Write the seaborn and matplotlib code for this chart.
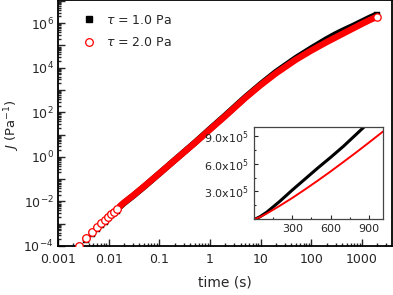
import numpy as np
import pandas as pd
import matplotlib
matplotlib.use("Agg")
import matplotlib.pyplot as plt
import matplotlib.ticker as mticker
from matplotlib.lines import Line2D
import seaborn as sns

# ---- data ----
t_red = [0.0026, 0.0036, 0.0046, 0.0058, 0.0071, 0.0084, 0.0097, 0.0111, 0.0128, 0.0145,
         0.0161, 0.02, 0.03, 0.05, 0.1, 0.2, 0.5, 1, 2, 5, 10, 20, 50, 100, 200, 300,
         400, 500, 600, 700, 800, 900, 1000, 1400, 1950]
J_red = [1.0e-4, 2.35e-4, 4.2e-4, 6.8e-4, 1.03e-3, 1.44e-3, 2.03e-3, 2.7e-3, 3.5e-3, 4.5e-3,
         5.7e-3, 8.8e-3, 1.8e-2, 4.7e-2, 0.18, 0.7, 4.2, 17, 68, 450, 1.68e3, 5.65e3, 2.34e4,
         5.96e4, 1.42e5, 2.29e5, 3.22e5, 4.18e5, 5.17e5, 6.2e5, 7.24e5, 8.31e5, 9.4e5,
         1.37e6, 1.92e6]

t_black = [0.0036, 0.0046, 0.0058, 0.0071, 0.0084, 0.0097, 0.0111, 0.0128, 0.0145, 0.0161,
           0.02, 0.03, 0.05, 0.1, 0.2, 0.5, 1, 2, 5, 10, 20, 50, 100, 200, 300, 400, 500,
           600, 700, 800, 900, 1000, 1400, 1950]
J_black = [1.9e-4, 3.5e-4, 5.8e-4, 8.8e-4, 1.25e-3, 1.75e-3, 2.35e-3, 3.05e-3, 3.9e-3, 5.4e-3,
           8.5e-3, 1.75e-2, 4.6e-2, 0.18, 0.71, 4.3, 17.8, 72, 480, 1.82e3, 6.4e3, 2.75e4, 7.4e4,
           1.9e5, 3.15e5, 4.35e5, 5.55e5, 6.7e5, 7.9e5, 9.2e5, 1.05e6, 1.18e6, 1.72e6, 2.4e6]

labels = [r"$\tau$ = 1.0 Pa", r"$\tau$ = 2.0 Pa"]
x_ticks = [0.001, 0.01, 0.1, 1, 10, 100, 1000]
x_ticklabels = ["0.001", "0.01", "0.1", "1", "10", "100", "1000"]
inset_xticks = [300, 600, 900]
inset_yticks = [3.0e5, 6.0e5, 9.0e5]
inset_yticklabels = [r"3.0x10$^5$", r"6.0x10$^5$", r"9.0x10$^5$"]

red = pd.DataFrame({"t": t_red, "J": J_red})
blk = pd.DataFrame({"t": t_black, "J": J_black})

sns.set_style("ticks")
plt.rcParams["font.family"] = ["DejaVu Sans"]
plt.rcParams["mathtext.fontset"] = "dejavusans"

fig = plt.figure(figsize=(3.93, 2.95), dpi=100)
ax = fig.add_axes([58 / 393, 1 - 246 / 295, 334 / 393, 246 / 295])

band_b = blk[blk.t >= 0.0161]
band_r = red[red.t >= 0.0161]
sns.lineplot(data=band_b, x="t", y="J", ax=ax, color="black", lw=4.6,
             solid_capstyle="butt", estimator=None, sort=True)
sns.scatterplot(data=blk[blk.t < 0.0161], x="t", y="J", ax=ax, marker="s", s=16,
                color="black", edgecolor="black", linewidth=0.3, zorder=3)
sns.scatterplot(data=blk.iloc[[-1]], x="t", y="J", ax=ax, marker="s", s=22,
                color="black", edgecolor="black", linewidth=0.3, zorder=3)
sns.lineplot(data=band_r, x="t", y="J", ax=ax, color="red", lw=4.6,
             solid_capstyle="butt", estimator=None, sort=True, zorder=4)
sns.scatterplot(data=red[red.t < 0.0161], x="t", y="J", ax=ax, marker="o", s=30,
                facecolor="white", edgecolor="red", linewidth=0.9, zorder=5)
sns.scatterplot(data=red.iloc[[-1]], x="t", y="J", ax=ax, marker="o", s=28,
                facecolor="white", edgecolor="red", linewidth=0.9, zorder=5)

ax.set_xscale("log")
ax.set_yscale("log")
ax.set_xlim(0.001, 3900)
ax.set_ylim(1e-4, 1.1e7)
ax.set_xticks(x_ticks)
ax.set_xticklabels(x_ticklabels)
ax.xaxis.set_minor_locator(mticker.LogLocator(base=10, subs=np.arange(2, 10), numticks=30))
ax.xaxis.set_minor_formatter(mticker.NullFormatter())
ax.yaxis.set_major_locator(mticker.LogLocator(base=10, numticks=30))
ax.yaxis.set_minor_locator(mticker.LogLocator(base=10, subs=np.arange(2, 10), numticks=30))
ax.yaxis.set_minor_formatter(mticker.NullFormatter())


def yfmt(v, pos):
    e = int(round(np.log10(v)))
    if e % 2 == 0:
        return r"$10^{%d}$" % e
    return ""


ax.yaxis.set_major_formatter(mticker.FuncFormatter(yfmt))
ax.tick_params(which="both", direction="in", labelsize=9, width=1.0)
ax.tick_params(axis="x", pad=5)
ax.tick_params(axis="y", pad=3)
ax.tick_params(which="major", length=5)
ax.tick_params(which="minor", length=2.5)
for s in ax.spines.values():
    s.set_linewidth(1.3)
    s.set_color("black")
ax.set_xlabel("time (s)", fontsize=10, labelpad=7)
ax.set_ylabel("")
fig.text(12 / 393, 1 - 125 / 295, r"$J$ (Pa$^{-1}$)", fontsize=9.5, rotation=90,
         ha="center", va="center")

# legend
h1 = Line2D([], [], ls="", marker="s", ms=5, color="black")
h2 = Line2D([], [], ls="", marker="o", ms=5.5, mfc="white", mec="red", mew=0.9)
ax.legend([h1, h2], labels, loc="upper left", frameon=False, fontsize=9,
          bbox_to_anchor=(0.03, 0.99), handletextpad=0.6, labelspacing=0.75,
          handlelength=1.5)

# inset
ins = fig.add_axes([254 / 393, 1 - 219 / 295, 129 / 393, 92 / 295])
sns.lineplot(data=blk[blk.t >= 0.5], x="t", y="J", ax=ins, color="black", lw=2.2,
             estimator=None, sort=True)
sns.lineplot(data=red[red.t >= 0.5], x="t", y="J", ax=ins, color="red", lw=1.4,
             estimator=None, sort=True)
ins.set_xlim(0, 1010)
ins.set_ylim(0, 1.0e6)
ins.set_xticks(inset_xticks)
ins.set_yticks(inset_yticks)
ins.set_yticklabels(inset_yticklabels)
ins.xaxis.set_minor_locator(mticker.MultipleLocator(150))
ins.yaxis.set_minor_locator(mticker.MultipleLocator(1.5e5))
ins.tick_params(which="both", direction="in", labelsize=8, width=0.8)
ins.tick_params(which="major", length=3)
ins.tick_params(which="minor", length=1.5)
ins.set_xlabel("")
ins.set_ylabel("")
for s in ins.spines.values():
    s.set_linewidth(0.9)
    s.set_color("#444444")

fig.savefig("out.png", dpi=100)
